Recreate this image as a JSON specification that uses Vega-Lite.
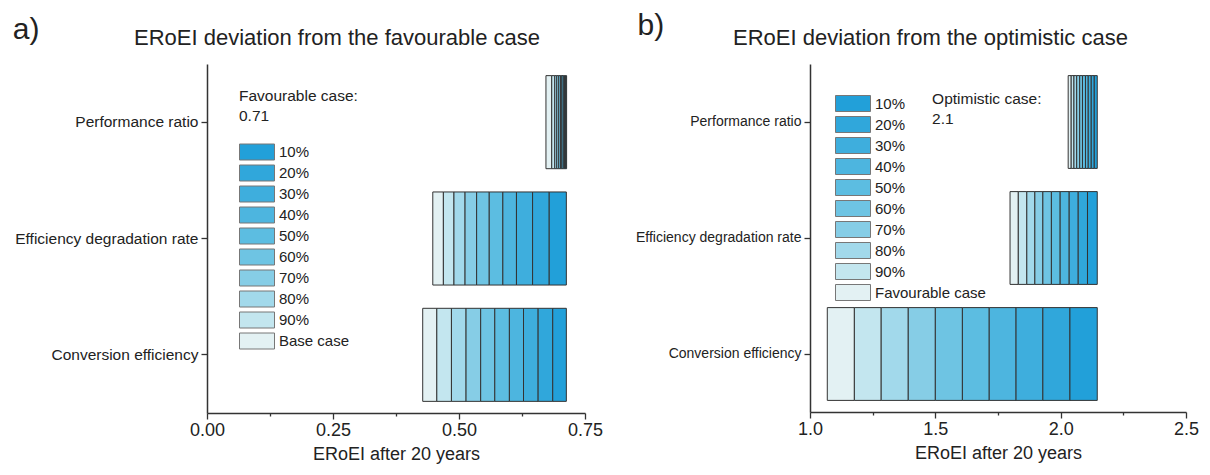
{
  "$schema": "https://vega.github.io/schema/vega-lite/v6.json",
  "padding": {"left": 12, "top": 11, "right": 5, "bottom": 5},
  "autosize": {"type": "pad"},
  "config": {
    "font": "Liberation Sans",
    "view": {"stroke": null},
    "axis": {"domainColor": "#333", "domainWidth": 1.5, "tickColor": "#333", "tickWidth": 1.3, "labelColor": "#222", "titleColor": "#222", "grid": false, "titleFontWeight": "normal"},
    "title": {"fontWeight": "normal", "color": "#222"},
    "concat": {"spacing": 32}
  },
  "resolve": {"scale": {"fill": "independent"}, "legend": {"fill": "independent"}},
  "datasets": {
    "a": [
      {"factor": "Conversion efficiency", "level": "Base case", "start": 0.428, "end": 0.456},
      {"factor": "Conversion efficiency", "level": "90%", "start": 0.456, "end": 0.485},
      {"factor": "Conversion efficiency", "level": "80%", "start": 0.485, "end": 0.514},
      {"factor": "Conversion efficiency", "level": "70%", "start": 0.514, "end": 0.543},
      {"factor": "Conversion efficiency", "level": "60%", "start": 0.543, "end": 0.571},
      {"factor": "Conversion efficiency", "level": "50%", "start": 0.571, "end": 0.600},
      {"factor": "Conversion efficiency", "level": "40%", "start": 0.600, "end": 0.628},
      {"factor": "Conversion efficiency", "level": "30%", "start": 0.628, "end": 0.657},
      {"factor": "Conversion efficiency", "level": "20%", "start": 0.657, "end": 0.686},
      {"factor": "Conversion efficiency", "level": "10%", "start": 0.686, "end": 0.713},
      {"factor": "Efficiency degradation rate", "level": "Base case", "start": 0.448, "end": 0.469},
      {"factor": "Efficiency degradation rate", "level": "90%", "start": 0.469, "end": 0.490},
      {"factor": "Efficiency degradation rate", "level": "80%", "start": 0.490, "end": 0.512},
      {"factor": "Efficiency degradation rate", "level": "70%", "start": 0.512, "end": 0.535},
      {"factor": "Efficiency degradation rate", "level": "60%", "start": 0.535, "end": 0.560},
      {"factor": "Efficiency degradation rate", "level": "50%", "start": 0.560, "end": 0.587},
      {"factor": "Efficiency degradation rate", "level": "40%", "start": 0.587, "end": 0.614},
      {"factor": "Efficiency degradation rate", "level": "30%", "start": 0.614, "end": 0.646},
      {"factor": "Efficiency degradation rate", "level": "20%", "start": 0.646, "end": 0.679},
      {"factor": "Efficiency degradation rate", "level": "10%", "start": 0.679, "end": 0.713},
      {"factor": "Performance ratio", "level": "Base case", "start": 0.6725, "end": 0.684},
      {"factor": "Performance ratio", "level": "90%", "start": 0.684, "end": 0.690},
      {"factor": "Performance ratio", "level": "80%", "start": 0.690, "end": 0.694},
      {"factor": "Performance ratio", "level": "70%", "start": 0.694, "end": 0.698},
      {"factor": "Performance ratio", "level": "60%", "start": 0.698, "end": 0.7016},
      {"factor": "Performance ratio", "level": "50%", "start": 0.7016, "end": 0.704},
      {"factor": "Performance ratio", "level": "40%", "start": 0.704, "end": 0.707},
      {"factor": "Performance ratio", "level": "30%", "start": 0.707, "end": 0.7095},
      {"factor": "Performance ratio", "level": "20%", "start": 0.7095, "end": 0.7115},
      {"factor": "Performance ratio", "level": "10%", "start": 0.7115, "end": 0.7135}
    ],
    "b": [
      {"factor": "Conversion efficiency", "level": "Favourable case", "start": 1.069, "end": 1.177},
      {"factor": "Conversion efficiency", "level": "90%", "start": 1.177, "end": 1.284},
      {"factor": "Conversion efficiency", "level": "80%", "start": 1.284, "end": 1.392},
      {"factor": "Conversion efficiency", "level": "70%", "start": 1.392, "end": 1.500},
      {"factor": "Conversion efficiency", "level": "60%", "start": 1.500, "end": 1.608},
      {"factor": "Conversion efficiency", "level": "50%", "start": 1.608, "end": 1.715},
      {"factor": "Conversion efficiency", "level": "40%", "start": 1.715, "end": 1.822},
      {"factor": "Conversion efficiency", "level": "30%", "start": 1.822, "end": 1.929},
      {"factor": "Conversion efficiency", "level": "20%", "start": 1.929, "end": 2.037},
      {"factor": "Conversion efficiency", "level": "10%", "start": 2.037, "end": 2.146},
      {"factor": "Efficiency degradation rate", "level": "Favourable case", "start": 1.798, "end": 1.831},
      {"factor": "Efficiency degradation rate", "level": "90%", "start": 1.831, "end": 1.865},
      {"factor": "Efficiency degradation rate", "level": "80%", "start": 1.865, "end": 1.897},
      {"factor": "Efficiency degradation rate", "level": "70%", "start": 1.897, "end": 1.929},
      {"factor": "Efficiency degradation rate", "level": "60%", "start": 1.929, "end": 1.963},
      {"factor": "Efficiency degradation rate", "level": "50%", "start": 1.963, "end": 1.998},
      {"factor": "Efficiency degradation rate", "level": "40%", "start": 1.998, "end": 2.034},
      {"factor": "Efficiency degradation rate", "level": "30%", "start": 2.034, "end": 2.070},
      {"factor": "Efficiency degradation rate", "level": "20%", "start": 2.070, "end": 2.107},
      {"factor": "Efficiency degradation rate", "level": "10%", "start": 2.107, "end": 2.146},
      {"factor": "Performance ratio", "level": "Favourable case", "start": 2.030, "end": 2.042},
      {"factor": "Performance ratio", "level": "90%", "start": 2.042, "end": 2.053},
      {"factor": "Performance ratio", "level": "80%", "start": 2.053, "end": 2.064},
      {"factor": "Performance ratio", "level": "70%", "start": 2.064, "end": 2.076},
      {"factor": "Performance ratio", "level": "60%", "start": 2.076, "end": 2.087},
      {"factor": "Performance ratio", "level": "50%", "start": 2.087, "end": 2.099},
      {"factor": "Performance ratio", "level": "40%", "start": 2.099, "end": 2.110},
      {"factor": "Performance ratio", "level": "30%", "start": 2.110, "end": 2.122},
      {"factor": "Performance ratio", "level": "20%", "start": 2.122, "end": 2.134},
      {"factor": "Performance ratio", "level": "10%", "start": 2.134, "end": 2.146}
    ]
  },
  "hconcat": [
    {
      "title": {"text": "a)", "anchor": "start", "frame": "bounds", "fontSize": 30, "offset": -18, "dx": -2},
      "hconcat": [
        {
          "title": {"text": "ERoEI deviation from the favourable case", "anchor": "start", "frame": "group", "dx": -73, "fontSize": 22, "offset": 14},
          "width": 378,
          "height": 349,
          "data": {"name": "a"},
          "mark": {"type": "bar", "stroke": "#333", "strokeWidth": 1},
          "encoding": {
            "y": {"field": "factor", "type": "nominal", "sort": ["Performance ratio", "Efficiency degradation rate", "Conversion efficiency"], "scale": {"paddingInner": 0.2, "paddingOuter": 0.1}, "axis": {"title": null, "labelFontSize": 15.5, "labelLimit": 300, "tickSize": 6, "labelPadding": 3}},
            "x": {"field": "start", "type": "quantitative", "scale": {"domain": [0, 0.75], "nice": false}, "axis": {"values": [0, 0.125, 0.25, 0.375, 0.5, 0.625, 0.75], "format": ".2f", "labelExpr": "indexof([0, 0.25, 0.5, 0.75], datum.value) >= 0 ? datum.label : ''", "labelFlush": false, "title": "ERoEI after 20 years", "labelFontSize": 18, "titleFontSize": 18, "titlePadding": 6, "tickSize": {"condition": {"test": "indexof([0.125, 0.375, 0.625], datum.value) >= 0", "value": 3}, "value": 6}}},
            "x2": {"field": "end"},
            "fill": {"field": "level", "type": "nominal", "scale": {"domain": ["10%", "20%", "30%", "40%", "50%", "60%", "70%", "80%", "90%", "Base case"], "range": ["#22a0d9", "#30a7db", "#3eaedd", "#4db5df", "#5cbde1", "#6ec4e3", "#86cde6", "#a2d9eb", "#c3e6ef", "#e3f1f3"]}, "legend": {"orient": "none", "legendX": 32, "legendY": 25, "title": ["Favourable case:", "0.71"], "titleFontSize": 15.5, "titleFontWeight": "normal", "titleColor": "#222", "titleLineHeight": 20, "titlePadding": 19, "labelFontSize": 15, "labelColor": "#222", "symbolType": "M-1,-1H3.375V1H-1Z", "symbolSize": 256, "symbolStrokeColor": "#777", "symbolStrokeWidth": 1, "symbolOpacity": 1, "labelOffset": 23, "rowPadding": 0}}
          }
        }
      ]
    },
    {
      "title": {"text": "b)", "anchor": "start", "frame": "bounds", "fontSize": 30, "offset": -14, "dx": 2},
      "hconcat": [
        {
          "title": {"text": "ERoEI deviation from the optimistic case", "anchor": "start", "frame": "group", "dx": -77, "fontSize": 22, "offset": 14},
          "width": 376,
          "height": 348,
          "data": {"name": "b"},
          "layer": [
            {
              "mark": {"type": "bar", "stroke": "#333", "strokeWidth": 1},
              "encoding": {
                "y": {"field": "factor", "type": "nominal", "sort": ["Performance ratio", "Efficiency degradation rate", "Conversion efficiency"], "scale": {"paddingInner": 0.2, "paddingOuter": 0.1}, "axis": {"title": null, "labelFontSize": 14, "labelLimit": 300, "tickSize": 6, "labelPadding": 3}},
                "x": {"field": "start", "type": "quantitative", "scale": {"domain": [1, 2.5], "nice": false}, "axis": {"values": [1, 1.25, 1.5, 1.75, 2, 2.25, 2.5], "format": ".1f", "labelExpr": "indexof([1, 1.5, 2, 2.5], datum.value) >= 0 ? datum.label : ''", "labelFlush": false, "title": "ERoEI after 20 years", "labelFontSize": 18, "titleFontSize": 18, "titlePadding": 6, "tickSize": {"condition": {"test": "indexof([1.25, 1.75, 2.25], datum.value) >= 0", "value": 3}, "value": 6}}},
                "x2": {"field": "end"},
                "fill": {"field": "level", "type": "nominal", "scale": {"domain": ["10%", "20%", "30%", "40%", "50%", "60%", "70%", "80%", "90%", "Favourable case"], "range": ["#22a0d9", "#30a7db", "#3eaedd", "#4db5df", "#5cbde1", "#6ec4e3", "#86cde6", "#a2d9eb", "#c3e6ef", "#e3f1f3"]}, "legend": {"orient": "none", "legendX": 25, "legendY": 31, "title": null, "labelFontSize": 15, "labelColor": "#222", "symbolType": "M-1,-1H3.375V1H-1Z", "symbolSize": 256, "symbolStrokeColor": "#777", "symbolStrokeWidth": 1, "symbolOpacity": 1, "labelOffset": 23, "rowPadding": 0}}
              }
            },
            {
              "data": {"values": [{"note": "Optimistic case"}]},
              "mark": {"type": "text", "align": "left", "baseline": "top", "fontSize": 15.5, "lineHeight": 20, "dy": -30, "color": "#222"},
              "encoding": {
                "x": {"datum": 1.487, "type": "quantitative", "scale": {"domain": [1, 2.5], "nice": false}},
                "y": {"datum": "Performance ratio", "type": "nominal"},
                "text": {"value": ["Optimistic case:", "2.1"]}
              }
            }
          ]
        }
      ]
    }
  ]
}
